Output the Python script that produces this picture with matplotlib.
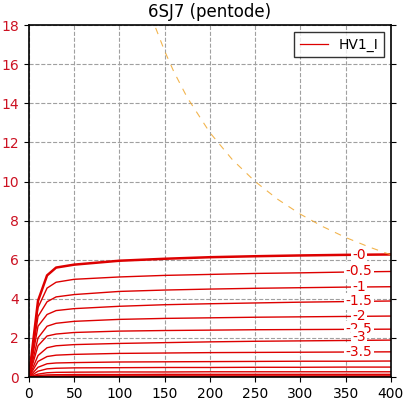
import matplotlib
matplotlib.use("Agg")
import matplotlib.pyplot as plt

# plate voltage points (V)
va = [0, 10, 20, 30, 50, 100, 150, 200, 250, 300, 350, 400]

# grid bias values and plate current (mA) per bias
biases = ["-0", "-0.5", "-1", "-1.5", "-2", "-2.5", "-3", "-3.5",
          "-4", "-4.5", "-5", "-5.5", "-6", "-6.5", "-7", "-7.5", "-8"]
ia = [
    [0, 3.90, 5.20, 5.60, 5.75, 5.95, 6.05, 6.13, 6.18, 6.22, 6.25, 6.27],
    [0, 3.55, 4.55, 4.85, 5.00, 5.12, 5.20, 5.25, 5.30, 5.33, 5.37, 5.40],
    [0, 3.10, 3.85, 4.10, 4.22, 4.38, 4.45, 4.50, 4.54, 4.57, 4.60, 4.62],
    [0, 2.60, 3.20, 3.40, 3.50, 3.62, 3.70, 3.75, 3.79, 3.83, 3.86, 3.89],
    [0, 2.00, 2.60, 2.75, 2.85, 2.95, 3.00, 3.03, 3.06, 3.08, 3.10, 3.12],
    [0, 1.60, 2.10, 2.20, 2.28, 2.35, 2.38, 2.40, 2.42, 2.43, 2.44, 2.45],
    [0, 1.10, 1.50, 1.60, 1.66, 1.72, 1.76, 1.80, 1.83, 1.85, 1.87, 1.89],
    [0, 0.80, 1.05, 1.12, 1.16, 1.21, 1.23, 1.25, 1.26, 1.27, 1.28, 1.29],
    [0, 0.50, 0.68, 0.72, 0.74, 0.77, 0.78, 0.79, 0.80, 0.81, 0.81, 0.82],
    [0, 0.30, 0.42, 0.45, 0.47, 0.48, 0.49, 0.49, 0.50, 0.50, 0.51, 0.51],
    [0, 0.15, 0.22, 0.24, 0.25, 0.26, 0.26, 0.27, 0.27, 0.27, 0.27, 0.27],
    [0, 0.08, 0.11, 0.12, 0.13, 0.13, 0.14, 0.14, 0.14, 0.14, 0.14, 0.14],
    [0, 0.03, 0.05, 0.05, 0.06, 0.06, 0.06, 0.06, 0.06, 0.06, 0.06, 0.06],
    [0, 0.01, 0.02, 0.02, 0.02, 0.02, 0.02, 0.02, 0.02, 0.02, 0.02, 0.02],
    [0, 0.00, 0.01, 0.01, 0.01, 0.01, 0.01, 0.01, 0.01, 0.01, 0.01, 0.01],
    [0, 0.00, 0.00, 0.00, 0.00, 0.00, 0.00, 0.00, 0.00, 0.00, 0.00, 0.00],
    [0, 0.00, 0.00, 0.00, 0.00, 0.00, 0.00, 0.00, 0.00, 0.00, 0.00, 0.00],
]
# label heights as placed on the chart (mA)
label_y = [6.24, 5.45, 4.62, 3.88, 3.12, 2.45, 2.05, 1.29]

# max plate dissipation curve (2.5 W)
pd_v = [140, 150, 160, 175, 200, 225, 250, 275, 300, 325, 350, 375, 400]
pd_i = [17.86, 16.67, 15.63, 14.29, 12.50, 11.11, 10.00, 9.09, 8.33, 7.69, 7.14, 6.67, 6.25]

red = "#dd0000"

fig = plt.figure(figsize=(4.08, 3.99), dpi=100)
ax = fig.add_axes([0.071, 0.055, 0.887, 0.882])

for k, cur in enumerate(ia):
    lw = 1.8 if k == 0 else 1.0
    ax.plot(va, cur, color=red, lw=lw)
# legend entry drawn thin like the reference
ax.plot([], [], color=red, lw=0.9, label="HV1_I")

for b, yl in zip(biases, label_y):
    ax.text(365, yl, b, color=red, fontsize=10, ha="center", va="center",
            bbox=dict(facecolor="white", edgecolor="none", pad=1.0))

ax.axhline(0.02, color=red, lw=2.5)

ax.plot(pd_v, pd_i, color="#f0a830", lw=0.8, ls=(0, (6, 6)), alpha=0.85)

ax.set_xlim(0, 400)
ax.set_ylim(0, 18)
ax.set_xticks(range(0, 401, 50))
ax.set_yticks(range(0, 19, 2))
ax.grid(True, color="#a0a0a0", ls="--", lw=0.8)
ax.tick_params(axis="y", colors="black", labelcolor="#cc1122", right=True, direction="out", labelsize=10)
ax.tick_params(axis="x", direction="out", labelsize=10)
for s in ax.spines.values():
    s.set_linewidth(1.2)
ax.set_title("6SJ7 (pentode)", fontsize=12)

leg = ax.legend(loc="upper right", fancybox=False, edgecolor="black", fontsize=10)
leg.get_frame().set_linewidth(1.0)

fig.savefig("out.png", dpi=100)
